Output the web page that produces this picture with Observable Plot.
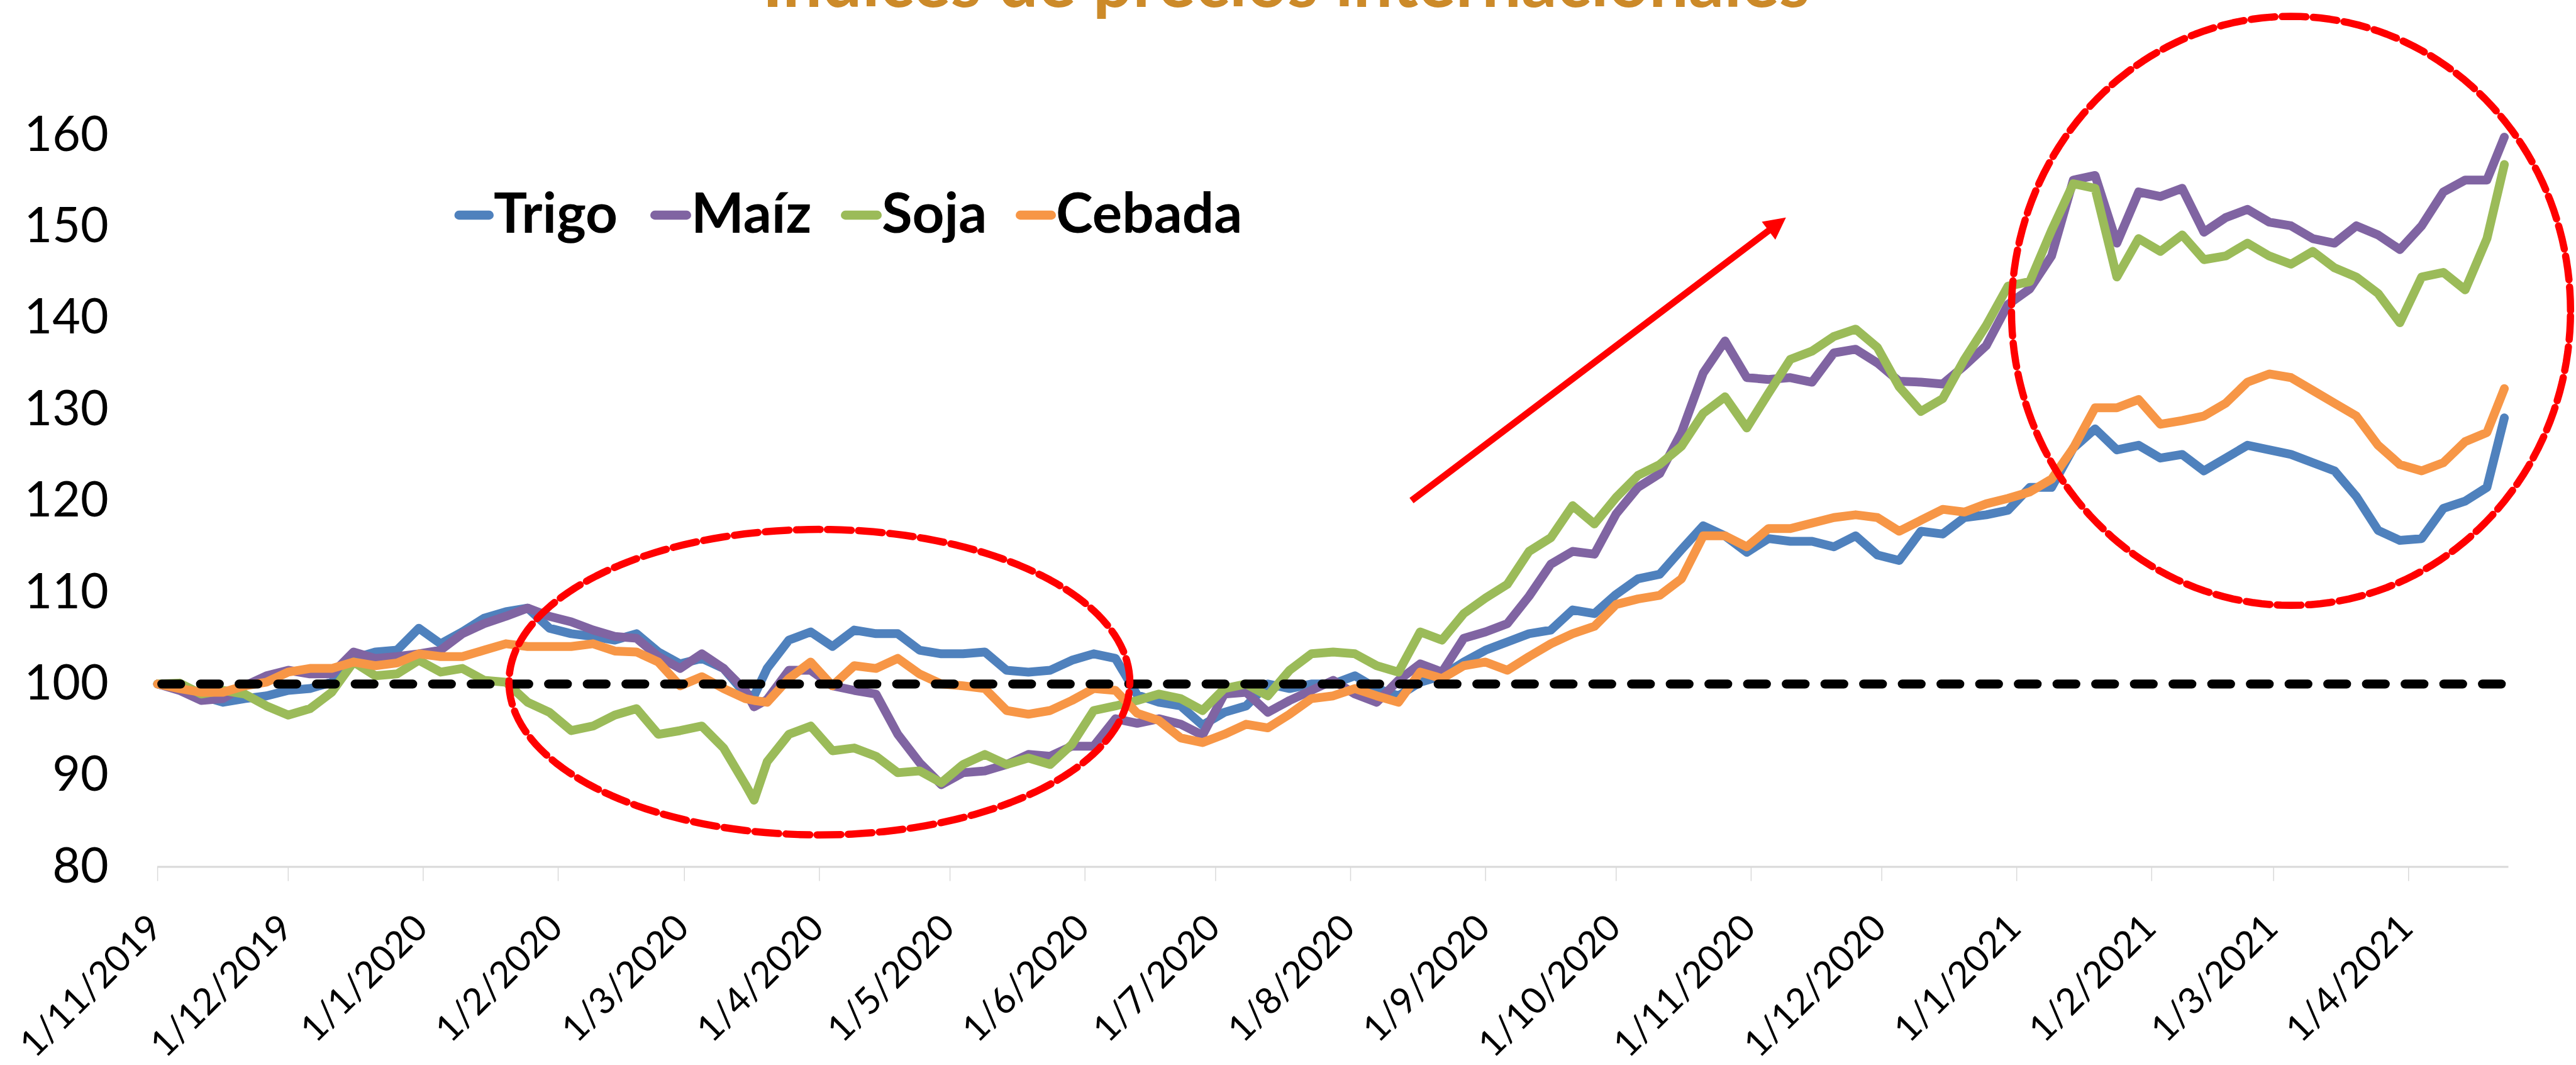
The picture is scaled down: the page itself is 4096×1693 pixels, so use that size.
<!DOCTYPE html>
<html>
<head>
<meta charset="utf-8">
<script src="https://cdn.jsdelivr.net/npm/d3@7"></script>
<script src="https://cdn.jsdelivr.net/npm/@observablehq/plot@0.6"></script>
<style>
  html, body { margin: 0; padding: 0; background: #fff; overflow: hidden; }
  #wrap { position: relative; width: 4096px; height: 1693px; }
  #overlay { position: absolute; left: 0; top: 0; }
</style>
</head>
<body>
<div id="wrap"><div id="chart"></div><svg id="overlay" width="4096" height="1693"></svg></div>
<script>
// ---------------- DATA ----------------
const titleText = "Índices de precios internacionales";
const seriesNames = ["Trigo", "Maíz", "Soja", "Cebada"];
const seriesColors = ["#4F81BD", "#8064A2", "#9BBB59", "#F79646"];

const dates = [
  "2019-11-01","2019-11-06","2019-11-11","2019-11-16","2019-11-21","2019-11-26","2019-12-01","2019-12-06","2019-12-11","2019-12-16",
  "2019-12-21","2019-12-26","2019-12-31","2020-01-05","2020-01-10","2020-01-15","2020-01-20","2020-01-25","2020-01-30","2020-02-04",
  "2020-02-09","2020-02-14","2020-02-19","2020-02-24","2020-02-29","2020-03-05","2020-03-10","2020-03-15","2020-03-17","2020-03-20","2020-03-25",
  "2020-03-30","2020-04-04","2020-04-09","2020-04-14","2020-04-19","2020-04-24","2020-04-29","2020-05-04","2020-05-09","2020-05-14",
  "2020-05-19","2020-05-24","2020-05-29","2020-06-03","2020-06-08","2020-06-13","2020-06-18","2020-06-23","2020-06-28","2020-07-03",
  "2020-07-08","2020-07-13","2020-07-18","2020-07-23","2020-07-28","2020-08-02","2020-08-07","2020-08-12","2020-08-17","2020-08-22",
  "2020-08-27","2020-09-01","2020-09-06","2020-09-11","2020-09-16","2020-09-21","2020-09-26","2020-10-01","2020-10-06","2020-10-11",
  "2020-10-16","2020-10-21","2020-10-26","2020-10-31","2020-11-05","2020-11-10","2020-11-15","2020-11-20","2020-11-25","2020-11-30",
  "2020-12-05","2020-12-10","2020-12-15","2020-12-20","2020-12-25","2020-12-30","2021-01-04","2021-01-09","2021-01-14","2021-01-19",
  "2021-01-24","2021-01-29","2021-02-03","2021-02-08","2021-02-13","2021-02-18","2021-02-23","2021-02-28","2021-03-05","2021-03-10",
  "2021-03-15","2021-03-20","2021-03-25","2021-03-30","2021-04-04","2021-04-09","2021-04-14","2021-04-19","2021-04-23"
];

const trigo = [
  100, 99.5, 98.7, 98.0, 98.4, 98.7, 99.3, 99.5, 100.2, 102.8,
  103.5, 103.7, 106.1, 104.4, 105.7, 107.2, 107.9, 108.3, 106.1, 105.5,
  105.2, 104.8, 105.5, 103.5, 102.2, 102.8, 101.7, 98.9, 98.7, 101.7, 104.8,
  105.7, 104.1, 105.9, 105.5, 105.5, 103.7, 103.3, 103.3, 103.5, 101.5,
  101.3, 101.5, 102.6, 103.3, 102.8, 98.8, 98.0, 97.6, 95.5, 96.9,
  97.6, 100.0, 99.5, 100.0, 100.0, 100.9, 99.5, 98.7, 100.2, 100.9,
  102.4, 103.7, 104.6, 105.5, 105.9, 108.1, 107.7, 109.8, 111.5, 112.0,
  114.7, 117.3, 116.2, 114.4, 115.9, 115.6, 115.6, 115.0, 116.2, 114.1,
  113.5, 116.7, 116.4, 118.2, 118.5, 119.0, 121.5, 121.5, 125.8, 127.9,
  125.6, 126.1, 124.7, 125.1, 123.3, 124.7, 126.1, 125.6, 125.1, 124.2,
  123.3, 120.5, 116.8, 115.7, 115.9, 119.2, 120.0, 121.5, 129.1
];
const maiz = [
  100, 99.3, 98.2, 98.4, 99.8, 100.9, 101.5, 101.1, 101.1, 103.5,
  102.8, 103.0, 103.3, 103.7, 105.5, 106.6, 107.4, 108.3, 107.4, 106.8,
  105.9, 105.2, 105.0, 103.0, 101.7, 103.3, 101.7, 99.3, 97.5, 98.3, 101.5,
  101.5, 99.8, 99.3, 98.9, 94.5, 91.4, 89.0, 90.3, 90.5, 91.2,
  92.3, 92.1, 93.2, 93.2, 96.2, 95.7, 96.2, 95.6, 94.4, 98.9,
  99.1, 96.9, 98.2, 99.3, 100.4, 98.9, 98.0, 100.4, 102.2, 101.3,
  105.0, 105.7, 106.6, 109.6, 113.1, 114.5, 114.2, 118.6, 121.5, 123.0,
  127.5, 134.0, 137.5, 133.5, 133.3, 133.5, 133.0, 136.2, 136.6, 135.1,
  133.1, 133.0, 132.8, 134.8, 137.0, 141.5, 143.2, 146.8, 155.1, 155.6,
  148.2, 153.8, 153.3, 154.2, 149.4, 151.0, 151.9, 150.5, 150.1, 148.7,
  148.2, 150.1, 149.1, 147.5, 150.1, 153.8, 155.1, 155.1, 159.8
];
const soja = [
  100, 100.1, 98.9, 99.3, 98.9, 97.6, 96.6, 97.3, 99.1, 102.4,
  100.9, 101.1, 102.6, 101.3, 101.7, 100.4, 100.2, 98.0, 96.9, 94.9,
  95.4, 96.6, 97.3, 94.5, 94.9, 95.4, 93.0, 89.0, 87.3, 91.5, 94.5,
  95.4, 92.7, 93.0, 92.1, 90.3, 90.5, 89.2, 91.2, 92.3, 91.2,
  91.9, 91.2, 93.4, 97.1, 97.6, 98.2, 98.9, 98.4, 97.1, 99.5,
  100.0, 98.7, 101.5, 103.3, 103.5, 103.3, 102.0, 101.3, 105.7, 104.8,
  107.7, 109.4, 110.9, 114.5, 116.0, 119.5, 117.5, 120.4, 122.8, 124.0,
  126.0, 129.6, 131.4, 128.0, 131.8, 135.5, 136.4, 138.0, 138.8, 136.8,
  132.5, 129.8, 131.2, 135.5, 139.2, 143.5, 144.0, 149.6, 154.7, 154.2,
  144.5, 148.7, 147.3, 149.1, 146.4, 146.8, 148.2, 146.8, 145.9, 147.3,
  145.5, 144.5, 142.7, 139.5, 144.5, 145.0, 143.1, 148.7, 156.8
];
const cebada = [
  100, 99.5, 99.1, 99.1, 99.8, 100.2, 101.3, 101.7, 101.7, 102.4,
  102.0, 102.3, 103.3, 103.0, 103.0, 103.7, 104.4, 104.1, 104.1, 104.1,
  104.4, 103.6, 103.5, 102.4, 99.8, 100.8, 99.5, 98.4, 98.2, 98.0, 100.6,
  102.4, 99.8, 102.0, 101.7, 102.8, 101.1, 100.0, 99.8, 99.5, 97.1,
  96.7, 97.1, 98.2, 99.5, 99.3, 96.8, 96.0, 94.1, 93.6, 94.5,
  95.6, 95.2, 96.7, 98.4, 98.7, 99.5, 98.7, 98.0, 101.3, 100.6,
  102.0, 102.4, 101.5, 103.0, 104.4, 105.5, 106.3, 108.7, 109.3, 109.7,
  111.5, 116.2, 116.2, 115.0, 117.0, 117.0, 117.6, 118.2, 118.5, 118.2,
  116.7, 117.9, 119.1, 118.8, 119.7, 120.3, 121.0, 122.4, 125.8, 130.2,
  130.2, 131.1, 128.4, 128.8, 129.3, 130.7, 133.0, 133.9, 133.5, 132.1,
  130.7, 129.3, 126.1, 124.0, 123.3, 124.2, 126.5, 127.5, 132.3
];

const yTicks = [80, 90, 100, 110, 120, 130, 140, 150, 160];
const xTickLabels = [
  "1/11/2019","1/12/2019","1/1/2020","1/2/2020","1/3/2020","1/4/2020","1/5/2020","1/6/2020","1/7/2020",
  "1/8/2020","1/9/2020","1/10/2020","1/11/2020","1/12/2020","1/1/2021","1/2/2021","1/3/2021","1/4/2021"
];
const referenceLevel = 100;

// annotations, in data terms (center date, center value, radii in days / index points)
const ellipseNotes = [
  { id: "left",  center: "2020-04-01", centerValue: 100.2, rxDays: 71.3, ry: 16.7 },
  { id: "right", center: "2021-03-05", centerValue: 140.8, rxDays: 64.2, ry: 32.2 }
];
const arrowNote = { fromDate: "2020-08-15", fromValue: 120.05, toDate: "2020-11-09", toValue: 151.0 };

// ---------------- LAYOUT ----------------
const W = 4096, H = 1693;
const ML = 250.1, MR = 107.5, MT = 214.5, MB = 315.4;
const xDomain = [new Date("2019-11-01"), new Date("2021-04-24")];
const yDomain = [80, 160];

const seriesValues = [trigo, maiz, soja, cebada];
const table = [];
seriesNames.forEach((name, k) => {
  dates.forEach((d, i) => table.push({ date: new Date(d), value: seriesValues[k][i], serie: name }));
});

const xTickDates = xTickLabels.map(s => {
  const [d, m, y] = s.split("/").map(Number);
  return new Date(Date.UTC(y, m - 1, d));
});

const ellipsePts = [];
for (const e of ellipseNotes) {
  const c = new Date(e.center).getTime();
  for (let a = 0; a <= 360; a += 2) {
    const t = a * Math.PI / 180;
    ellipsePts.push({ id: e.id, x: new Date(c + e.rxDays * 864e5 * Math.cos(t)), y: e.centerValue + e.ry * Math.sin(t) });
  }
}

// angle of the arrow on screen, from the chart's own scales
const sx = Plot.scale({ x: { type: "utc", domain: xDomain, range: [ML, W - MR] } });
const sy = Plot.scale({ y: { type: "linear", domain: yDomain, range: [H - MB, MT] } });
const ax1 = sx.apply(new Date(arrowNote.fromDate)), ay1 = sy.apply(arrowNote.fromValue);
const ax2 = sx.apply(new Date(arrowNote.toDate)), ay2 = sy.apply(arrowNote.toValue);
const arrowAngle = Math.atan2(ax2 - ax1, -(ay2 - ay1)) * 180 / Math.PI;

const arrowData = [arrowNote];

const chart = Plot.plot({
  width: W, height: H,
  marginLeft: ML, marginRight: MR, marginTop: MT, marginBottom: MB,
  style: { fontFamily: "Lato, sans-serif", background: "#fff", color: "#000", overflow: "visible" },
  x: { type: "utc", domain: xDomain, label: null },
  y: { type: "linear", domain: yDomain, label: null },
  color: { domain: seriesNames, range: seriesColors },
  marks: [
    Plot.ruleY([80], { stroke: "#d9d9d9", strokeWidth: 3 }),
    Plot.axisX({ ticks: xTickDates, tickSize: 23, stroke: "#d9d9d9", strokeWidth: 1.5, fill: "none", tickFormat: () => "", label: null }),
    Plot.text(xTickDates, {
      x: d => d, text: (d, i) => xTickLabels[i], frameAnchor: "bottom",
      rotate: -45, textAnchor: "end", lineAnchor: "top", dx: -19, dy: 71,
      fontSize: 58.5, fill: "#000"
    }),
    Plot.axisY({ ticks: yTicks, tickSize: 0, tickPadding: 78, fontSize: 77, fill: "#000", label: null }),
    Plot.line(table, { x: "date", y: "value", z: "serie", stroke: "serie", strokeWidth: 14, strokeLinejoin: "round", strokeLinecap: "round" }),
    Plot.ruleY([referenceLevel], { stroke: "#000", strokeWidth: 14.4, strokeDasharray: "29.9 31.6", strokeDashoffset: -7.2, strokeLinecap: "round" }),
    Plot.line(ellipsePts, { x: "x", y: "y", z: "id", stroke: "#FF0000", strokeWidth: 11.5, strokeDasharray: "38 11.5", fill: "none" }),
    Plot.arrow(arrowData, {
      x1: d => new Date(d.fromDate), y1: "fromValue", x2: d => new Date(d.toDate), y2: "toValue",
      stroke: "#FF0000", strokeWidth: 10.6, headLength: 0, insetEnd: 22, strokeLinecap: "butt"
    }),
    Plot.vector(arrowData, {
      x: d => new Date(d.toDate), y: "toValue", length: 34.6, r: 17.8, rotate: arrowAngle,
      anchor: "end", shape: "spike", fill: "#FF0000", stroke: "none"
    })
  ]
});
document.getElementById("chart").appendChild(chart);

// ---------------- TITLE & LEGEND (overlay) ----------------
const ns = "http://www.w3.org/2000/svg";
const ov = document.getElementById("overlay");
function el(tag, attrs, parent) {
  const e = document.createElementNS(ns, tag);
  for (const k in attrs) e.setAttribute(k, attrs[k]);
  parent.appendChild(e);
  return e;
}
const title = el("text", { x: 2045, y: 10.6, "text-anchor": "middle", "font-family": "Lato", "font-weight": 700, "font-size": 100, fill: "#CC8A29" }, ov);
title.textContent = titleText;
title.setAttribute("font-size", (100 * 1666 / title.getComputedTextLength()).toFixed(2));

const legendSwatches = [[722.5, 785], [1034, 1099], [1337, 1402], [1615, 1679]];
const legendTargetWidth = 852;
const legendTexts = [];
seriesNames.forEach((name, i) => {
  const [x0, x1] = legendSwatches[i];
  el("line", { x1: x0 + 7.2, x2: x1 - 7.2, y1: 342, y2: 342, stroke: seriesColors[i], "stroke-width": 14.4, "stroke-linecap": "round" }, ov);
  const t = el("text", { x: x1, y: 370, "font-family": "Lato", "font-weight": 700, "font-size": 100, fill: "#000" }, ov);
  t.textContent = name;
  legendTexts.push(t);
});
const sumW = legendTexts.reduce((s, t) => s + t.getComputedTextLength(), 0);
legendTexts.forEach(t => t.setAttribute("font-size", (100 * legendTargetWidth / sumW).toFixed(2)));
</script>
</body>
</html>
